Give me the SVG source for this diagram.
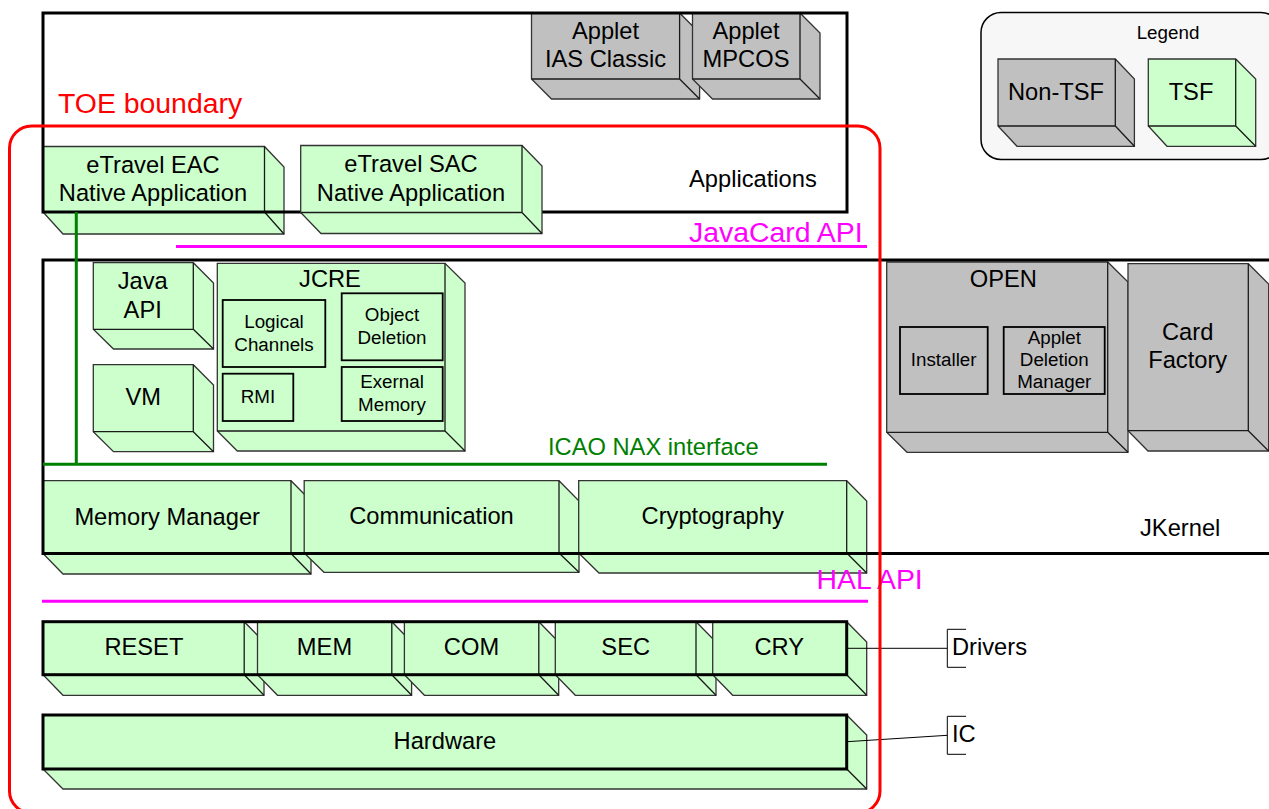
<svg xmlns="http://www.w3.org/2000/svg" width="1269" height="809" viewBox="0 0 1269 809">
<style>
text{font-family:"Liberation Sans",Arial,sans-serif;font-size:23.7px;fill:#000;text-anchor:middle}
.s{font-size:18.8px}
.l{text-anchor:start}
.big{font-size:28.4px}
.g{fill:#ccffcc;stroke:#333;stroke-width:1.3;stroke-linejoin:miter}
.n{fill:#c0c0c0;stroke:#333;stroke-width:1.3}
.e{fill:none;stroke:#1a1a1a;stroke-width:1.3}
.in{fill:none;stroke:#000;stroke-width:1.8}
.frame{fill:none;stroke:#000;stroke-width:3}
.thin{fill:none;stroke:#000;stroke-width:1}
.green{fill:none;stroke:#008000;stroke-width:3}
.mag{fill:none;stroke:#ff00ff;stroke-width:3}
</style>
<rect width="1269" height="809" fill="#fff"/>

<g id="legend">
<rect x="981" y="12.500" width="300" height="147" rx="20" fill="#f7f7f7" stroke="#000" stroke-width="1.500"/>
<text class="s" x="1168" y="39">Legend</text>
</g>
<g id="legend-non-tsf"><path class="n" d="M998 59H1115.300L1134.400 79V146.300H1017L998 126Z"/><path class="e" d="M998 126H1115.300V59M1115.300 126L1134.400 146.300"/><text x="1056" y="100">Non-TSF</text></g>
<g id="legend-tsf"><path class="g" d="M1148.300 59H1235.700L1255.700 79V146.300H1167L1148.300 126Z"/><path class="e" d="M1148.300 126H1235.700V59M1235.700 126L1255.700 146.300"/><text x="1191" y="100">TSF</text></g>

<g id="applet-ias"><path class="n" d="M531.500 13H679.600L699.600 33V99H551.500L531.500 79Z"/><path class="e" d="M531.500 79H679.600V13M679.600 79L699.600 99"/><text x="605.500" y="38.500">Applet</text><text x="605.500" y="67">IAS Classic</text></g>
<g id="applet-mpcos"><path class="n" d="M692.500 13H800L820 33V99H712.500L692.500 79Z"/><path class="e" d="M692.500 79H800V13M800 79L820 99"/><text x="746" y="38.500">Applet</text><text x="746" y="67">MPCOS</text></g>

<g id="etravel-eac"><path class="g" d="M43 146.500H264.500L284 167V234H63L43 212Z"/><path class="e" d="M43 212H264.500V146.500M264.500 212L284 234"/><text x="153" y="172.700">eTravel EAC</text><text x="153" y="200.700">Native Application</text></g>

<g id="applications">
<rect class="frame" x="43" y="13" width="804" height="199"/>
<text class="l" x="689" y="186.700">Applications</text>
</g>

<g id="etravel-sac"><path class="g" d="M300.700 145.500H522L542 166V233.500H321L300.700 212.500Z"/><path class="e" d="M300.700 212.500H522V145.500M522 212.500L542 233.500"/><text x="411" y="172">eTravel SAC</text><text x="411" y="200.700">Native Application</text></g>

<g id="java-api"><path class="g" d="M93.300 262.700H193.300L213.500 283V349H113.500L93.300 329.300Z"/><path class="e" d="M93.300 329.300H193.300V262.700M193.300 329.300L213.500 349"/><text x="142.700" y="289.300">Java</text><text x="142.700" y="317.700">API</text></g>
<g id="vm"><path class="g" d="M93.300 364.700H193.300L213.500 385V451.700H113.500L93.300 431.700Z"/><path class="e" d="M93.300 431.700H193.300V364.700M193.300 431.700L213.500 451.700"/><text x="143.300" y="405">VM</text></g>
<g id="jcre"><path class="g" d="M217.300 263.300H445L465 283V451H237.300L217.300 431Z"/><path class="e" d="M217.300 431H445V263.300M445 431L465 451"/><text x="330" y="287.300">JCRE</text>
<rect class="in" x="222.700" y="300" width="102.600" height="67"/><text class="s" x="274" y="328.300">Logical</text><text class="s" x="274" y="351">Channels</text>
<rect class="in" x="222.700" y="373.700" width="70.600" height="47.300"/><text class="s" x="258" y="403">RMI</text>
<rect class="in" x="341.700" y="293.300" width="101" height="67"/><text class="s" x="392" y="321">Object</text><text class="s" x="392" y="344.300">Deletion</text>
<rect class="in" x="341.700" y="367" width="101" height="54"/><text class="s" x="392" y="388">Exernal</text><text class="s" x="392" y="411.300">Memory</text>
</g>

<g id="open"><path class="n" d="M886.700 262H1107.700L1128 282V452.300H907L886.700 432.300Z"/><path class="e" d="M886.700 432.300H1107.700V262M1107.700 432.300L1128 452.300"/><text x="1003.300" y="286.700">OPEN</text>
<rect class="in" x="900" y="327" width="87.700" height="67"/><text class="s" x="943.700" y="366">Installer</text>
<rect class="in" x="1003.700" y="327" width="101" height="67"/><text class="s" x="1054.300" y="344.300">Applet</text><text class="s" x="1054.300" y="366.300">Deletion</text><text class="s" x="1054.300" y="388.300">Manager</text>
</g>
<g id="card-factory"><path class="n" d="M1128 263.700H1248.300L1268.700 284V451H1148L1128 430.700Z"/><path class="e" d="M1128 430.700H1248.300V263.700M1248.300 430.700L1268.700 451"/><text x="1187.700" y="340">Card</text><text x="1187.700" y="367.700">Factory</text></g>

<g id="memory-manager"><path class="g" d="M43 480.700H291L311 501V574H63L43 553.500Z"/><path class="e" d="M43 553.500H291V480.700M291 553.500L311 574"/><text x="167.200" y="525">Memory Manager</text></g>
<g id="communication"><path class="g" d="M304.200 480.700H559L579 501V572.300H324L304.200 553Z"/><path class="e" d="M304.200 553H559V480.700M559 553L579 572.300"/><text x="431.500" y="524">Communication</text></g>
<g id="cryptography"><path class="g" d="M578.700 480.700H846.700L866.700 501V573H599L578.700 553Z"/><path class="e" d="M578.700 553H846.700V480.700M846.700 553L866.700 573"/><text x="712.700" y="524">Cryptography</text></g>

<g id="jkernel">
<path class="frame" d="M1269 260H43V553.500H1269"/>
<text class="l" x="1140" y="535.700">JKernel</text>
</g>

<g id="reset"><path class="g" d="M43 621.700H244.200L264 642V695.300H63L43 674.700Z"/><path class="e" d="M43 674.700H244.200V621.700M244.200 674.700L264 695.300"/><text x="143.900" y="655">RESET</text></g>
<g id="mem"><path class="g" d="M257.500 621.700H391.800L411.600 642V695.300H277.500L257.500 674.700Z"/><path class="e" d="M257.500 674.700H391.800V621.700M391.800 674.700L411.600 695.300"/><text x="324.500" y="655">MEM</text></g>
<g id="com"><path class="g" d="M404.400 621.700H538.800L558.700 642V695.300H424.400L404.400 674.700Z"/><path class="e" d="M404.400 674.700H538.800V621.700M538.800 674.700L558.700 695.300"/><text x="471.500" y="655">COM</text></g>
<g id="sec"><path class="g" d="M555.300 621.700H696L716 642V695.300H575.300L555.300 674.700Z"/><path class="e" d="M555.300 674.700H696V621.700M696 674.700L716 695.300"/><text x="625.700" y="655">SEC</text></g>
<g id="cry"><path class="g" d="M712.700 621.700H846.700L866.700 642V695.300H732.700L712.700 674.700Z"/><path class="e" d="M712.700 674.700H846.700V621.700M846.700 674.700L866.700 695.300"/><text x="779.300" y="655">CRY</text></g>
<rect id="drivers-frame" class="frame" x="43" y="621.700" width="803.700" height="53"/>

<g id="hardware"><path class="g" d="M43 715H846.700L866.700 735V789H63L43 769Z"/><path class="e" d="M846.700 769L866.700 789"/><rect class="frame" x="43" y="715" width="803.700" height="54"/><text x="444.900" y="749">Hardware</text></g>

<g id="connectors">
<path class="green" d="M76.300 212V464.300M43 464.300H827"/>
<path class="mag" d="M176 246.500H867M42 601.300H868"/>
<path class="thin" d="M847 648.300H947.300M966 629.300H947.300V667.300H966"/>
<path class="thin" d="M847 741.700L947.300 735.300M966 716.300H947.300V754.300H966"/>
</g>

<g id="labels">
<text class="l" x="548" y="455" style="fill:#008000">ICAO NAX interface</text>
<text class="l big" x="689" y="241.700" style="fill:#ff00ff">JavaCard API</text>
<text class="l big" x="816.500" y="589" style="fill:#ff00ff">HAL API</text>
<text class="l" x="952" y="655">Drivers</text>
<text class="l" x="952" y="741.700">IC</text>
</g>

<g id="toe-boundary">
<rect x="9.500" y="126" width="870.500" height="687" rx="22" fill="none" stroke="#ff0000" stroke-width="3"/>
<text class="l big" x="58" y="112.700" style="fill:#ff0000">TOE boundary</text>
</g>
</svg>
